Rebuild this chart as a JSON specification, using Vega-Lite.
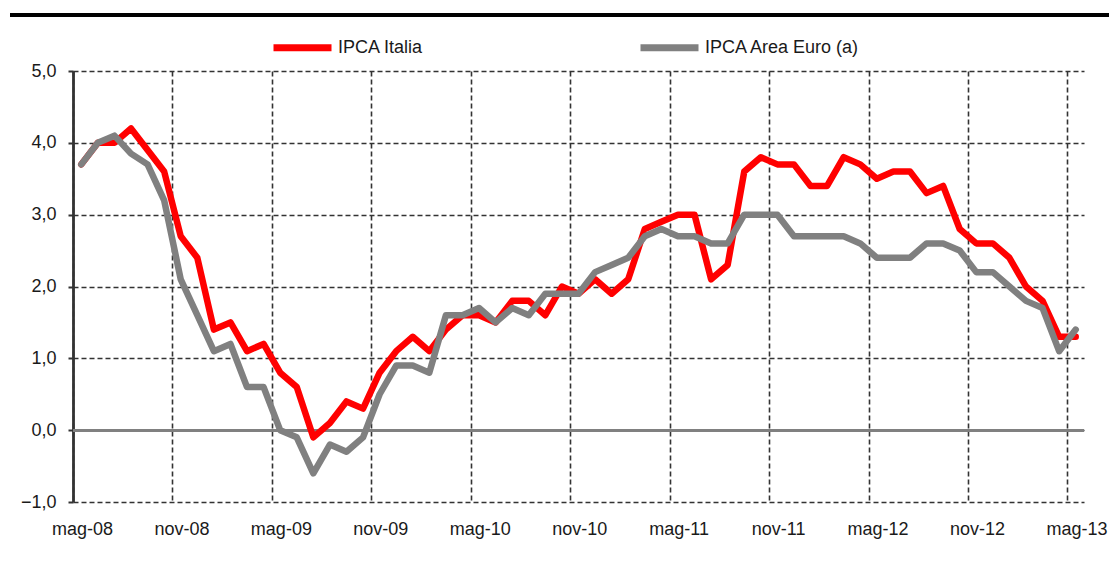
{
  "$schema": "https://vega.github.io/schema/vega-lite/v6.json",
  "width": 1011,
  "height": 431,
  "autosize": "none",
  "padding": {"left": 73, "top": 71, "right": 25, "bottom": 61},
  "background": "white",
  "config": {
    "view": {"stroke": null},
    "font": "Liberation Sans"
  },
  "data": {
    "values": [
      {"i": 0, "italia": 3.7, "euro": 3.7},
      {"i": 1, "italia": 4.0, "euro": 4.0},
      {"i": 2, "italia": 4.0, "euro": 4.1},
      {"i": 3, "italia": 4.2, "euro": 3.85},
      {"i": 4, "italia": 3.9, "euro": 3.7},
      {"i": 5, "italia": 3.6, "euro": 3.2},
      {"i": 6, "italia": 2.7, "euro": 2.1},
      {"i": 7, "italia": 2.4, "euro": 1.6},
      {"i": 8, "italia": 1.4, "euro": 1.1},
      {"i": 9, "italia": 1.5, "euro": 1.2},
      {"i": 10, "italia": 1.1, "euro": 0.6},
      {"i": 11, "italia": 1.2, "euro": 0.6},
      {"i": 12, "italia": 0.8, "euro": 0.0},
      {"i": 13, "italia": 0.6, "euro": -0.1},
      {"i": 14, "italia": -0.1, "euro": -0.6},
      {"i": 15, "italia": 0.1, "euro": -0.2},
      {"i": 16, "italia": 0.4, "euro": -0.3},
      {"i": 17, "italia": 0.3, "euro": -0.1},
      {"i": 18, "italia": 0.8, "euro": 0.5},
      {"i": 19, "italia": 1.1, "euro": 0.9},
      {"i": 20, "italia": 1.3, "euro": 0.9},
      {"i": 21, "italia": 1.1, "euro": 0.8},
      {"i": 22, "italia": 1.4, "euro": 1.6},
      {"i": 23, "italia": 1.6, "euro": 1.6},
      {"i": 24, "italia": 1.6, "euro": 1.7},
      {"i": 25, "italia": 1.5, "euro": 1.5},
      {"i": 26, "italia": 1.8, "euro": 1.7},
      {"i": 27, "italia": 1.8, "euro": 1.6},
      {"i": 28, "italia": 1.6, "euro": 1.9},
      {"i": 29, "italia": 2.0, "euro": 1.9},
      {"i": 30, "italia": 1.9, "euro": 1.9},
      {"i": 31, "italia": 2.1, "euro": 2.2},
      {"i": 32, "italia": 1.9, "euro": 2.3},
      {"i": 33, "italia": 2.1, "euro": 2.4},
      {"i": 34, "italia": 2.8, "euro": 2.7},
      {"i": 35, "italia": 2.9, "euro": 2.8},
      {"i": 36, "italia": 3.0, "euro": 2.7},
      {"i": 37, "italia": 3.0, "euro": 2.7},
      {"i": 38, "italia": 2.1, "euro": 2.6},
      {"i": 39, "italia": 2.3, "euro": 2.6},
      {"i": 40, "italia": 3.6, "euro": 3.0},
      {"i": 41, "italia": 3.8, "euro": 3.0},
      {"i": 42, "italia": 3.7, "euro": 3.0},
      {"i": 43, "italia": 3.7, "euro": 2.7},
      {"i": 44, "italia": 3.4, "euro": 2.7},
      {"i": 45, "italia": 3.4, "euro": 2.7},
      {"i": 46, "italia": 3.8, "euro": 2.7},
      {"i": 47, "italia": 3.7, "euro": 2.6},
      {"i": 48, "italia": 3.5, "euro": 2.4},
      {"i": 49, "italia": 3.6, "euro": 2.4},
      {"i": 50, "italia": 3.6, "euro": 2.4},
      {"i": 51, "italia": 3.3, "euro": 2.6},
      {"i": 52, "italia": 3.4, "euro": 2.6},
      {"i": 53, "italia": 2.8, "euro": 2.5},
      {"i": 54, "italia": 2.6, "euro": 2.2},
      {"i": 55, "italia": 2.6, "euro": 2.2},
      {"i": 56, "italia": 2.4, "euro": 2.0},
      {"i": 57, "italia": 2.0, "euro": 1.8},
      {"i": 58, "italia": 1.8, "euro": 1.7},
      {"i": 59, "italia": 1.3, "euro": 1.1},
      {"i": 60, "italia": 1.3, "euro": 1.4}
    ]
  },
  "transform": [{"fold": ["italia", "euro"], "as": ["serie", "valore"]}],
  "layer": [
    {
      "mark": {"type": "rule", "color": "#808080", "strokeWidth": 2.5},
      "encoding": {
        "y": {"datum": 0, "type": "quantitative"}
      }
    },
    {
      "mark": {"type": "line", "strokeWidth": 6.5, "strokeJoin": "round", "strokeCap": "round"},
      "encoding": {
        "x": {
          "field": "i",
          "type": "quantitative",
          "scale": {"domain": [-0.5, 60.5], "nice": false, "zero": false},
          "axis": {
            "title": null,
            "values": [-0.5, 5.5, 11.5, 17.5, 23.5, 29.5, 35.5, 41.5, 47.5, 53.5, 59.5],
            "labelExpr": "['mag-08','nov-08','mag-09','nov-09','mag-10','nov-10','mag-11','nov-11','mag-12','nov-12','mag-13'][round((datum.value + 0.5) / 6)]",
            "labelOffset": 9,
            "labelAlign": "center",
            "labelFontSize": 18,
            "labelColor": "#1a1a1a",
            "labelPadding": 18,
            "domain": false,
            "ticks": false,
            "grid": true,
            "gridColor": "#333333",
            "gridDash": [5, 3],
            "gridWidth": 1.6,
            "labelFlush": false,
            "labelOverlap": false
          }
        },
        "y": {
          "field": "valore",
          "type": "quantitative",
          "scale": {"domain": [-1, 5], "nice": false, "zero": false},
          "axis": {
            "title": null,
            "values": [-1, 0, 1, 2, 3, 4, 5],
            "labelExpr": "replace(format(datum.value, '.1f'), '.', ',')",
            "labelFontSize": 18,
            "labelColor": "#1a1a1a",
            "labelPadding": 12,
            "domain": true,
            "domainColor": "#333333",
            "domainWidth": 2.8,
            "ticks": true,
            "tickSize": 5,
            "tickColor": "#333333",
            "tickWidth": 2,
            "grid": true,
            "gridColor": "#333333",
            "gridDash": [5, 3],
            "gridWidth": 1.6,
            "labelFlush": false,
            "labelOverlap": false
          }
        },
        "color": {
          "field": "serie",
          "type": "nominal",
          "scale": {"domain": ["italia", "euro"], "range": ["#FF0000", "#808080"]},
          "legend": {
            "orient": "none",
            "legendX": 197,
            "legendY": -56,
            "direction": "horizontal",
            "columns": 2,
            "title": null,
            "symbolType": "stroke",
            "symbolSize": 3364,
            "symbolStrokeWidth": 7,
            "labelFontSize": 18,
            "labelColor": "#1a1a1a",
            "labelOffset": 3,
            "labelLimit": 400,
            "columnPadding": 202,
            "labelExpr": "datum.label == 'italia' ? 'IPCA Italia' : 'IPCA Area Euro (a)'"
          }
        }
      }
    },
    {
      "mark": {"type": "rule", "color": "#000000", "strokeWidth": 3, "clip": false},
      "encoding": {
        "x": {"datum": -4.3, "type": "quantitative"},
        "x2": {"datum": 62.2},
        "y": {"datum": 5.78, "type": "quantitative"}
      }
    }
  ]
}
